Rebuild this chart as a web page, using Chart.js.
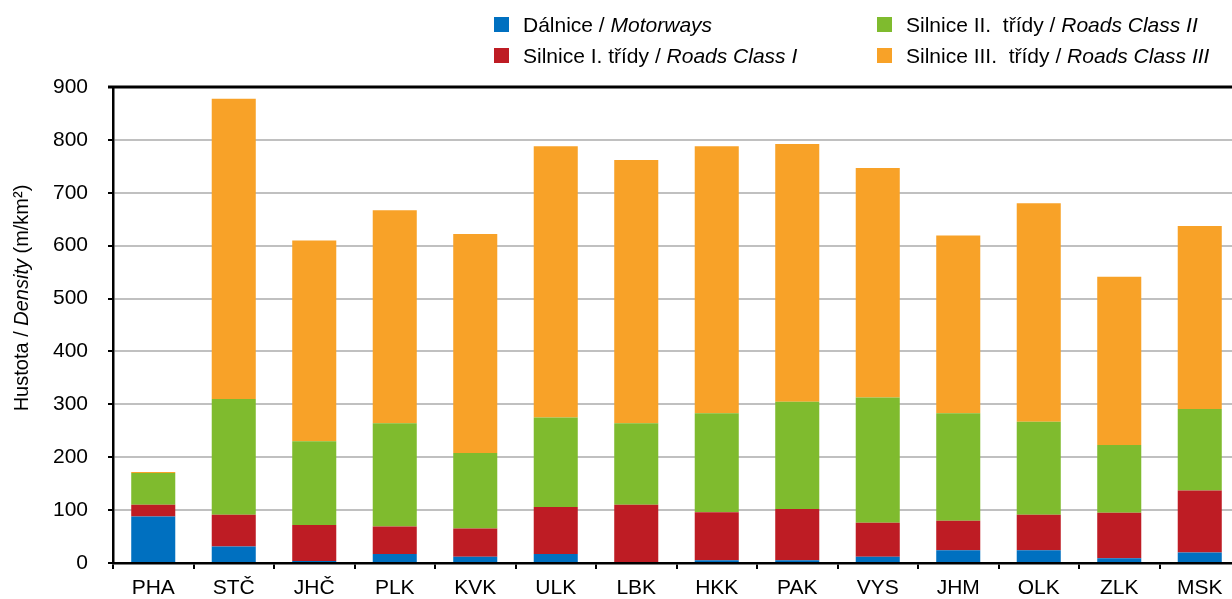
<!DOCTYPE html>
<html lang="cs">
<head>
    <meta charset="UTF-8">
    <title>Hustota silniční sítě podle krajů</title>
    <script src="https://cdn.jsdelivr.net/npm/chart.js"></script>
    <style>
        html, body {
            margin: 0;
            padding: 0;
            background: #fff;
            overflow: hidden;
        }
        #chart-container {
            width: 1240px;
            height: 599px;
        }
    </style>
</head>
<body>
    <div id="chart-container">
        <canvas id="chart"></canvas>
    </div>
    <script>
        // Kraje (regions)
        var categories = ['PHA', 'STČ', 'JHČ', 'PLK', 'KVK', 'ULK', 'LBK', 'HKK', 'PAK', 'VYS', 'JHM', 'OLK', 'ZLK', 'MSK'];

        // Hustota v m/km2 podle třídy komunikace
        var motorways   = [88, 31,   4,  17,  12,  17,   0,   5,   5,  12,  24,  24,   9,  20];
        var roadsClass1 = [22, 60,  68,  52,  53,  89, 110,  91,  97,  64,  56,  67,  86, 117];
        var roadsClass2 = [60, 219, 158, 195, 143, 169, 154, 187, 203, 237, 203, 176, 128, 154];
        var roadsClass3 = [2, 568, 380, 403, 414, 513, 498, 505, 487, 434, 336, 413, 318, 346];

        var yTicks = [0, 100, 200, 300, 400, 500, 600, 700, 800, 900];

        // legend: czech name, english name (italic)
        var seriesCz = ['Dálnice / ', 'Silnice I. třídy / ', 'Silnice II.  třídy / ', 'Silnice III.  třídy / '];
        var seriesEn = ['Motorways', 'Roads Class I', 'Roads Class II', 'Roads Class III'];
        var colors = ['#0070c0', '#be1c24', '#7fbb2e', '#f8a228'];

        var FONT = '"Liberation Sans", Arial, sans-serif';

        // writes a row of text pieces, some of them italic
        function richText(ctx, parts, x, y, size) {
            parts.forEach(function(p) {
                ctx.font = (p[1] ? 'italic ' : '') + size + 'px ' + FONT;
                ctx.fillText(p[0], x, y);
                x += ctx.measureText(p[0]).width;
            });
            return x;
        }

        var extras = {
            id: 'extras',
            afterDraw: function(chart) {
                var ctx = chart.ctx;
                var area = chart.chartArea;
                ctx.save();

                // top frame line
                ctx.strokeStyle = '#000';
                ctx.lineWidth = 3;
                ctx.beginPath();
                ctx.moveTo(area.left - 5, area.top);
                ctx.lineTo(area.right, area.top);
                ctx.stroke();

                // legend in two columns
                ctx.fillStyle = '#000';
                ctx.textBaseline = 'alphabetic';
                var cols = [494, 877];
                var rows = [17, 48];
                for (var i = 0; i < 4; i++) {
                    var col = i < 2 ? 0 : 1;
                    var row = i % 2;
                    ctx.fillStyle = colors[i];
                    ctx.fillRect(cols[col], rows[row], 15, 15);
                    ctx.fillStyle = '#000';
                    richText(ctx, [[seriesCz[i], false], [seriesEn[i], true]], cols[col] + 29, rows[row] + 14.5, 21);
                }

                // y axis title
                var title = [['Hustota / ', false], ['Density', true], [' (m/km²)', false]];
                var w = 0;
                title.forEach(function(p) {
                    ctx.font = (p[1] ? 'italic ' : '') + '20px ' + FONT;
                    w += ctx.measureText(p[0]).width;
                });
                ctx.translate(28, 298);
                ctx.rotate(-Math.PI / 2);
                richText(ctx, title, -w / 2, 0, 20);

                ctx.restore();
            }
        };

        var names = seriesCz.map(function(c, i) { return c + seriesEn[i]; });
        var series = [motorways, roadsClass1, roadsClass2, roadsClass3];

        var ctx = document.getElementById('chart').getContext('2d');
        var chart = new Chart(ctx, {
            type: 'bar',
            data: {
                labels: categories,
                datasets: series.map(function(values, i) {
                    return {
                        label: names[i],
                        data: values,
                        backgroundColor: colors[i],
                        borderWidth: 0,
                        barPercentage: 0.547,
                        categoryPercentage: 1.0
                    };
                })
            },
            options: {
                responsive: true,
                maintainAspectRatio: false,
                animation: false,
                devicePixelRatio: 1,
                layout: {
                    padding: { top: 87, left: 0, right: 0, bottom: 0 }
                },
                plugins: {
                    legend: { display: false },
                    tooltip: { enabled: false }
                },
                scales: {
                    x: {
                        stacked: true,
                        afterFit: function(scale) { scale.height = 36; },
                        grid: {
                            drawOnChartArea: false,
                            offset: true,
                            tickLength: 6,
                            color: '#000',
                            lineWidth: 2
                        },
                        border: { color: '#000', width: 2.5 },
                        ticks: {
                            color: '#000',
                            padding: 7,
                            font: { family: FONT, size: 21 }
                        }
                    },
                    y: {
                        stacked: true,
                        min: 0,
                        max: 900,
                        afterFit: function(scale) { scale.width = 113; },
                        afterBuildTicks: function(scale) {
                            scale.ticks = yTicks.map(function(v) { return { value: v }; });
                        },
                        grid: {
                            color: '#c0c0c0',
                            lineWidth: 2,
                            tickColor: '#000',
                            tickLength: 5
                        },
                        border: { color: '#000', width: 2.5 },
                        ticks: {
                            color: '#000',
                            padding: 20,
                            font: { family: FONT, size: 21 }
                        }
                    }
                }
            },
            plugins: [extras]
        });
    </script>
</body>
</html>
